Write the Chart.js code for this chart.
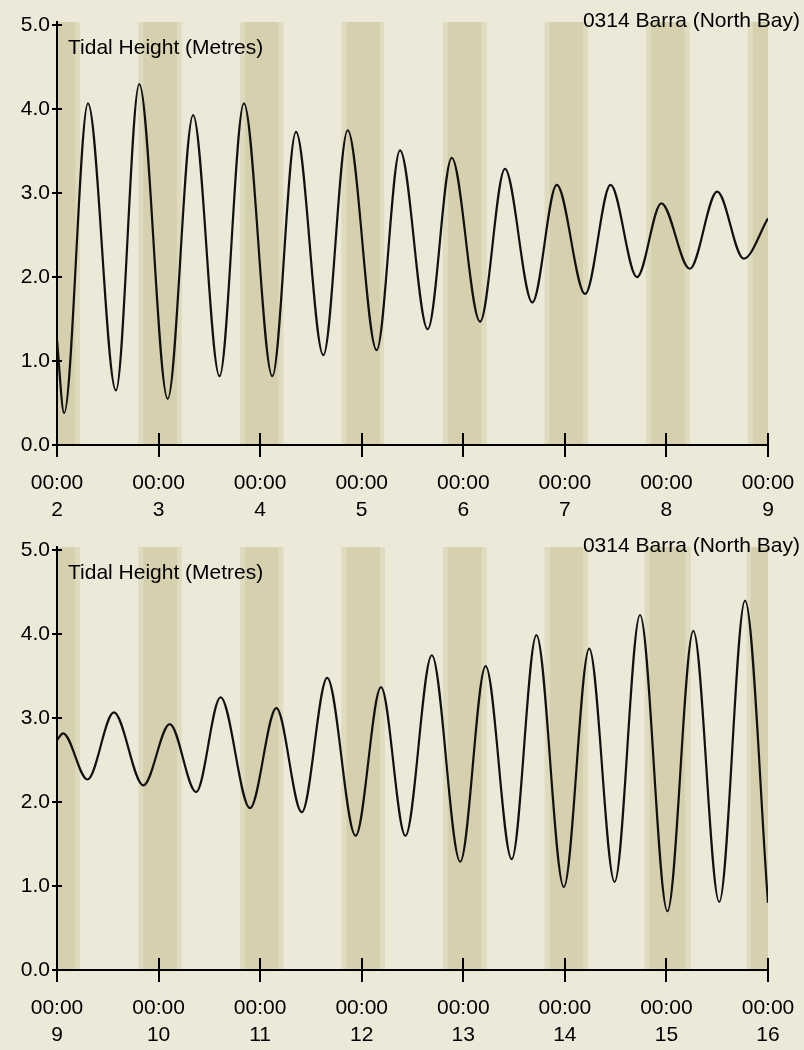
<!DOCTYPE html>
<html>
<head>
<meta charset="utf-8">
<script src="https://cdn.jsdelivr.net/npm/chart.js@4.4.1/dist/chart.umd.min.js"></script>
<style>
html, body { margin: 0; padding: 0; background: #ece9d8; }
.box { width: 804px; height: 525px; }
canvas { display: block; }
</style>
</head>
<body>
<div class="box"><canvas id="chartTop" width="804" height="525"></canvas></div>
<div class="box"><canvas id="chartBottom" width="804" height="525"></canvas></div>
<script>
"use strict";
const station = '0314 Barra (North Bay)';
const axisTitle = 'Tidal Height (Metres)';
const yTicks = [0, 1, 2, 3, 4, 5];

// first week, days 2 to 9 (turning points)
const timesTop = [2.00, 2.07, 2.305, 2.58, 2.81, 3.09, 3.34, 3.60, 3.84, 4.12, 4.353, 4.622, 4.862, 5.147, 5.377,
    5.65, 5.886, 6.165, 6.41, 6.68, 6.92, 7.20, 7.45, 7.71, 7.95, 8.23, 8.50, 8.76, 9.00];
const heightsTop = [1.25, 0.38, 4.07, 0.65, 4.30, 0.55, 3.93, 0.82, 4.07, 0.82, 3.73, 1.07, 3.75, 1.13, 3.51,
    1.38, 3.42, 1.47, 3.29, 1.70, 3.10, 1.80, 3.10, 2.00, 2.88, 2.10, 3.02, 2.22, 2.70];

// second week, days 9 to 16
const timesBottom = [9.00, 9.06, 9.30, 9.56, 9.85, 10.11, 10.37, 10.61, 10.90, 11.16, 11.41, 11.66, 11.94, 12.19, 12.43,
    12.69, 12.97, 13.22, 13.477, 13.72, 13.99, 14.24, 14.49, 14.74, 15.01, 15.265, 15.52, 15.774, 16.00];
const heightsBottom = [2.74, 2.82, 2.27, 3.07, 2.20, 2.93, 2.12, 3.25, 1.93, 3.12, 1.88, 3.48, 1.60, 3.37, 1.60,
    3.75, 1.29, 3.62, 1.32, 3.99, 0.99, 3.83, 1.05, 4.23, 0.70, 4.04, 0.81, 4.40, 0.80];

// night shading: twilight (light) and dark periods, in days
const twilightTop = [[1.80, 2.228], [2.80, 3.228], [3.80, 4.228], [4.80, 5.222], [5.80, 6.23], [6.80, 7.23], [7.80, 8.23], [8.80, 9.23]];
const darkTop = [[1.85, 2.18], [2.85, 3.18], [3.85, 4.18], [4.85, 5.18], [5.85, 6.18], [6.85, 7.18], [7.85, 8.18], [8.85, 9.18]];
const twilightBottom = [[8.80, 9.228], [9.80, 10.228], [10.80, 11.228], [11.80, 12.228], [12.80, 13.23], [13.80, 14.23], [14.785, 15.24], [15.79, 16.24]];
const darkBottom = [[8.85, 9.18], [9.85, 10.18], [10.85, 11.18], [11.85, 12.18], [12.85, 13.18], [13.854, 14.18], [14.835, 15.184], [15.83, 16.19]];

const fontFamily = '"Liberation Sans", Arial, sans-serif';
const fontSize = 21;

const tideDecor = {
    id: 'tideDecor',
    beforeDraw(chart, args, opts) {
        const ctx = chart.ctx;
        const a = chart.chartArea;
        const x = chart.scales.x;
        ctx.save();
        ctx.beginPath();
        ctx.rect(a.left, a.top, a.right - a.left, a.bottom - a.top);
        ctx.clip();
        ctx.fillStyle = '#dfdbbf';
        opts.twilight.forEach((b) => {
            const x0 = x.getPixelForValue(b[0]);
            ctx.fillRect(x0, a.top, x.getPixelForValue(b[1]) - x0, a.bottom - a.top);
        });
        ctx.fillStyle = '#d6d0ae';
        opts.dark.forEach((b) => {
            const x0 = x.getPixelForValue(b[0]);
            ctx.fillRect(x0, a.top, x.getPixelForValue(b[1]) - x0, a.bottom - a.top);
        });
        ctx.restore();
    },
    afterDraw(chart) {
        const ctx = chart.ctx;
        const a = chart.chartArea;
        const x = chart.scales.x;
        const y = chart.scales.y;
        ctx.save();
        ctx.strokeStyle = '#000';
        ctx.lineWidth = 2;
        ctx.beginPath();
        x.ticks.forEach((t) => {
            const px = Math.round(x.getPixelForValue(t.value));
            ctx.moveTo(px, a.bottom - 12);
            ctx.lineTo(px, a.bottom + 12);
        });
        y.ticks.forEach((t) => {
            const py = Math.round(y.getPixelForValue(t.value));
            ctx.moveTo(a.left - 5, py);
            ctx.lineTo(a.left + 5, py);
        });
        ctx.stroke();
        ctx.fillStyle = '#000';
        ctx.font = fontSize + 'px ' + fontFamily;
        ctx.textBaseline = 'alphabetic';
        ctx.textAlign = 'left';
        ctx.fillText(axisTitle, a.left + 11, a.top + 32);
        ctx.textAlign = 'right';
        ctx.fillText(station, chart.width - 4, 27);
        ctx.restore();
    }
};

function makeChart(id, times, heights, first, last, twilight, dark) {
    const ctx = document.getElementById(id).getContext('2d');
    return new Chart(ctx, {
        type: 'line',
        data: {
            datasets: [{
                data: times.map((t, i) => ({x: t, y: heights[i]})),
                borderColor: '#111',
                borderWidth: 2.2,
                pointRadius: 0,
                fill: false,
                cubicInterpolationMode: 'monotone'
            }]
        },
        options: {
            responsive: false,
            animation: false,
            layout: {padding: {top: 22, right: 36, left: 0, bottom: 0}},
            plugins: {
                legend: {display: false},
                tooltip: {enabled: false},
                tideDecor: {twilight: twilight, dark: dark}
            },
            scales: {
                x: {
                    type: 'linear',
                    min: first,
                    max: last,
                    afterFit: (s) => { s.height = 80; s.paddingLeft = 0; s.paddingRight = 0; },
                    grid: {drawOnChartArea: false, drawTicks: false, color: 'rgba(0,0,0,0)'},
                    border: {color: '#000', width: 2},
                    ticks: {
                        stepSize: 1,
                        autoSkip: false,
                        maxRotation: 0,
                        padding: 25,
                        color: '#000',
                        font: {family: fontFamily, size: fontSize, lineHeight: 1.28},
                        callback: (v) => ['00:00', String(v)]
                    }
                },
                y: {
                    min: 0,
                    max: 5.04,
                    afterFit: (s) => { s.width = 57; s.paddingTop = 0; s.paddingBottom = 0; },
                    afterBuildTicks: (s) => { s.ticks = yTicks.map((v) => ({value: v})); },
                    grid: {drawOnChartArea: false, drawTicks: false, color: 'rgba(0,0,0,0)'},
                    border: {color: '#000', width: 2},
                    ticks: {
                        padding: 7,
                        color: '#000',
                        font: {family: fontFamily, size: fontSize},
                        callback: (v) => Number(v).toFixed(1)
                    }
                }
            }
        },
        plugins: [tideDecor]
    });
}

const chartTop = makeChart('chartTop', timesTop, heightsTop, 2, 9, twilightTop, darkTop);
const chartBottom = makeChart('chartBottom', timesBottom, heightsBottom, 9, 16, twilightBottom, darkBottom);
</script>
</body>
</html>
